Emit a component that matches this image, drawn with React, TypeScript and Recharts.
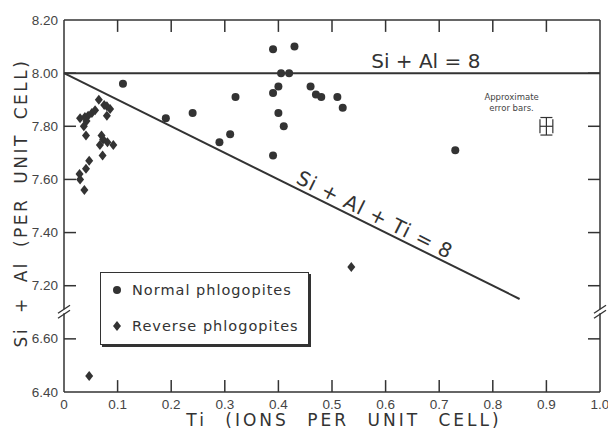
import React from 'react';
import {
  ScatterChart, Scatter, XAxis, YAxis, ReferenceLine, ReferenceDot,
  ErrorBar, Legend, Label
} from 'recharts';

// Normal phlogopites (circles)
const normalTi = [0.11, 0.19, 0.24, 0.29, 0.31, 0.32, 0.39, 0.43, 0.405, 0.42, 0.40, 0.39, 0.40, 0.41, 0.39, 0.46, 0.47, 0.48, 0.51, 0.52, 0.73];
const normalSiAl = [7.96, 7.83, 7.85, 7.74, 7.77, 7.91, 8.09, 8.10, 8.00, 8.00, 7.95, 7.925, 7.85, 7.80, 7.69, 7.95, 7.92, 7.91, 7.91, 7.87, 7.71];

// Reverse phlogopites (diamonds)
const reverseTi = [0.065, 0.075, 0.08, 0.086, 0.08, 0.03, 0.039, 0.045, 0.052, 0.058, 0.042, 0.037, 0.041, 0.07, 0.073, 0.067, 0.081, 0.092, 0.072, 0.047, 0.041, 0.029, 0.03, 0.038, 0.536, 0.047];
const reverseSiAl = [7.90, 7.88, 7.875, 7.865, 7.84, 7.83, 7.835, 7.84, 7.85, 7.86, 7.82, 7.80, 7.765, 7.765, 7.75, 7.73, 7.74, 7.73, 7.69, 7.67, 7.64, 7.62, 7.60, 7.56, 7.27, 6.46];

const xTicks = [0, 0.1, 0.2, 0.3, 0.4, 0.5, 0.6, 0.7, 0.8, 0.9, 1.0];
const innerXTicks = [0.1, 0.2, 0.3, 0.4, 0.5, 0.6, 0.7, 0.8, 0.9];
const yTickValues = [6.4, 6.6, 7.2, 7.4, 7.6, 7.8, 8.0, 8.2];

// reference lines
const siAlLine = 8.0;
const siAlTiLine = [{ x: 0, y: 8.0 }, { x: 0.85, y: 7.15 }];

// error bar sample
const errorBarPoint = [{ x: 0.9, y: 7.8, ex: 0.012, ey: 0.033 }];

// the y axis is broken between 6.6 and 7.2: values below the break are shifted up
const BREAK_AT = 7.0;
const BREAK_SHIFT = 0.4;
const toPlot = (v: number) => (v < BREAK_AT ? v + BREAK_SHIFT : v);
const fromPlot = (v: number) => (v < BREAK_AT + 0.05 ? v - BREAK_SHIFT : v);

const normalData = normalTi.map((x, i) => ({ x, y: toPlot(normalSiAl[i]) }));
const reverseData = reverseTi.map((x, i) => ({ x, y: toPlot(reverseSiAl[i]) }));
const yTicks = yTickValues.map(toPlot);
const innerYTicks = yTicks.slice(1, -1);
const X_MIN = 0, X_MAX = 1, Y_MIN = 6.8, Y_MAX = 8.2;

// inward tick length (about 12px of a 536 x 372 plot)
const TICK_DX = (X_MAX - X_MIN) * 0.0224;
const TICK_DY = (Y_MAX - Y_MIN) * 0.032;

const INK = '#333';
const FONT = '"DejaVu Sans", sans-serif';
const TICK_FONT = '"Liberation Sans", Arial, sans-serif';

const BottomTickLabel = (p: any) => {
  const v = p.payload.value;
  return (
    <text x={p.x} y={p.y} textAnchor="middle" dominantBaseline="hanging" fontSize={13.5}
      fontFamily={TICK_FONT} fill="#444">{v === 0 ? '0' : v.toFixed(1)}</text>
  );
};
const LeftTickLabel = (p: any) => (
  <text x={p.x} y={p.y} textAnchor="end" dominantBaseline="central" fontSize={13.5}
    fontFamily={TICK_FONT} fill="#444">{fromPlot(p.payload.value).toFixed(2)}</text>
);

const Dot = (p: any) => <circle cx={p.cx} cy={p.cy} r={4} fill={INK} />;
const Diamond = (p: any) => (
  <polygon points={`${p.cx},${p.cy - 5} ${p.cx + 4},${p.cy} ${p.cx},${p.cy + 5} ${p.cx - 4},${p.cy}`} fill={INK} />
);

const BreakMark = (p: any) => (
  <g>
    <rect x={p.cx - 2} y={p.cy - 3} width={4} height={4} fill="#fff" />
    <g stroke={INK} strokeWidth={1.4}>
      <line x1={p.cx - 6} y1={p.cy + 1} x2={p.cx + 6} y2={p.cy - 7} />
      <line x1={p.cx - 6} y1={p.cy + 6} x2={p.cx + 6} y2={p.cy - 2} />
    </g>
  </g>
);

const LegendBox = () => (
  <div style={{
    width: 209, height: 73, boxSizing: 'border-box', border: `1.5px solid ${INK}`,
    boxShadow: `2px 2px 0 ${INK}`, background: '#fff', fontFamily: FONT, fontSize: 14.5,
    color: '#333', letterSpacing: 1, position: 'relative'
  }}>
    <div style={{ position: 'absolute', left: 10, top: 9, display: 'flex', alignItems: 'center' }}>
      <svg width={12} height={12}><circle cx={6} cy={6} r={4} fill={INK} /></svg>
      <span style={{ marginLeft: 9 }}>Normal phlogopites</span>
    </div>
    <div style={{ position: 'absolute', left: 10, top: 45, display: 'flex', alignItems: 'center' }}>
      <svg width={12} height={12}><polygon points="6,1 10,6 6,11 2,6" fill={INK} /></svg>
      <span style={{ marginLeft: 9 }}>Reverse phlogopites</span>
    </div>
  </div>
);

const axisLine = { stroke: INK, strokeWidth: 1.5 };

export default function App() {
  return (
    <div style={{ position: 'absolute', left: 0, top: 0, background: '#fff' }}>
      <ScatterChart width={608} height={431} margin={{ top: 0, right: 0, bottom: 0, left: 0 }}>
        <XAxis
          dataKey="x" type="number" domain={[X_MIN, X_MAX]} ticks={xTicks} height={39}
          tick={BottomTickLabel} tickLine={false} tickSize={0} tickMargin={7} axisLine={axisLine}
        >
          <Label content={(props: any) => {
            const vb = props.viewBox;
            return (
              <text x={vb.x + vb.width / 2 + 12} y={vb.y + 34} textAnchor="middle"
                fontFamily={FONT} fontSize={17} letterSpacing={3} wordSpacing={10} fill="#333">
                Ti (IONS PER UNIT CELL)
              </text>
            );
          }} />
        </XAxis>
        <XAxis
          xAxisId="top" orientation="top" dataKey="x" type="number" domain={[X_MIN, X_MAX]} height={20}
          tick={false} tickLine={false} axisLine={axisLine}
        />
        <YAxis
          dataKey="y" type="number" domain={[Y_MIN, Y_MAX]} ticks={yTicks} width={64}
          tick={LeftTickLabel} tickLine={false} tickSize={0} tickMargin={6} axisLine={axisLine}
        >
          <Label content={(props: any) => {
            const vb = props.viewBox;
            const cx = 21;
            const cy = vb.y + vb.height / 2 - 3;
            return (
              <text x={cx} y={cy} transform={`rotate(-90, ${cx}, ${cy})`} textAnchor="middle"
                dominantBaseline="central" fontFamily={FONT} fontSize={17} letterSpacing={2.5}
                wordSpacing={6} fill="#333">
                Si + Al (PER UNIT CELL)
              </text>
            );
          }} />
        </YAxis>
        <YAxis
          yAxisId="right" orientation="right" dataKey="y" type="number" domain={[Y_MIN, Y_MAX]} width={8}
          tick={false} tickLine={false} axisLine={axisLine}
        />

        {/* inward tick marks on all four sides of the frame */}
        {innerXTicks.map((v) => (
          <ReferenceLine key={`b${v}`} segment={[{ x: v, y: Y_MIN }, { x: v, y: Y_MIN + TICK_DY }]}
            stroke={INK} strokeWidth={1.5} />
        ))}
        {innerXTicks.map((v) => (
          <ReferenceLine key={`t${v}`} segment={[{ x: v, y: Y_MAX }, { x: v, y: Y_MAX - TICK_DY }]}
            stroke={INK} strokeWidth={1.5} />
        ))}
        {innerYTicks.map((v) => (
          <ReferenceLine key={`l${v}`} segment={[{ x: X_MIN, y: v }, { x: X_MIN + TICK_DX, y: v }]}
            stroke={INK} strokeWidth={1.5} />
        ))}
        {innerYTicks.map((v) => (
          <ReferenceLine key={`r${v}`} segment={[{ x: X_MAX, y: v }, { x: X_MAX - TICK_DX, y: v }]}
            stroke={INK} strokeWidth={1.5} />
        ))}

        <ReferenceLine y={siAlLine} stroke={INK} strokeWidth={2} />
        <ReferenceLine segment={siAlTiLine} stroke={INK} strokeWidth={2} />

        <ReferenceDot x={X_MIN} y={7.1} r={0} shape={BreakMark} />
        <ReferenceDot x={X_MAX} y={7.1} r={0} shape={BreakMark} />

        <ReferenceDot x={0.675} y={8.0} r={0} shape={(p: any) => (
          <text x={p.cx} y={p.cy - 5} textAnchor="middle" fontFamily={FONT} fontSize={20} fill="#333">
            Si + Al = 8
          </text>
        )} />
        <ReferenceDot x={0.58} y={7.467} r={0} shape={(p: any) => (
          <text x={p.cx} y={p.cy} transform={`rotate(26.6, ${p.cx}, ${p.cy})`} textAnchor="middle"
            dominantBaseline="central" fontFamily={FONT} fontSize={20} letterSpacing={1} fill="#333">
            Si + Al + Ti = 8
          </text>
        )} />
        <ReferenceDot x={0.835} y={7.87} r={0} shape={(p: any) => (
          <text x={p.cx} y={p.cy} textAnchor="middle" fontFamily={FONT} fontSize={8.5} fill="#444">
            <tspan x={p.cx} dy={-8}>Approximate</tspan>
            <tspan x={p.cx} dy={11}>error bars.</tspan>
          </text>
        )} />

        <Scatter data={errorBarPoint} xAxisId="top" yAxisId="right" isAnimationActive={false}
          shape={() => <g />} legendType="none">
          <ErrorBar dataKey="ex" direction="x" width={7} stroke={INK} strokeWidth={1.2} />
          <ErrorBar dataKey="ey" direction="y" width={6} stroke={INK} strokeWidth={1.2} />
        </Scatter>
        <Scatter name="Normal phlogopites" data={normalData} isAnimationActive={false} shape={Dot} />
        <Scatter name="Reverse phlogopites" data={reverseData} isAnimationActive={false} shape={Diamond} />

        <Legend
          layout="horizontal" verticalAlign="middle" align="center"
          content={() => <LegendBox />}
          wrapperStyle={{ left: 100, top: 272, width: 211, height: 75 }}
        />
      </ScatterChart>
    </div>
  );
}
